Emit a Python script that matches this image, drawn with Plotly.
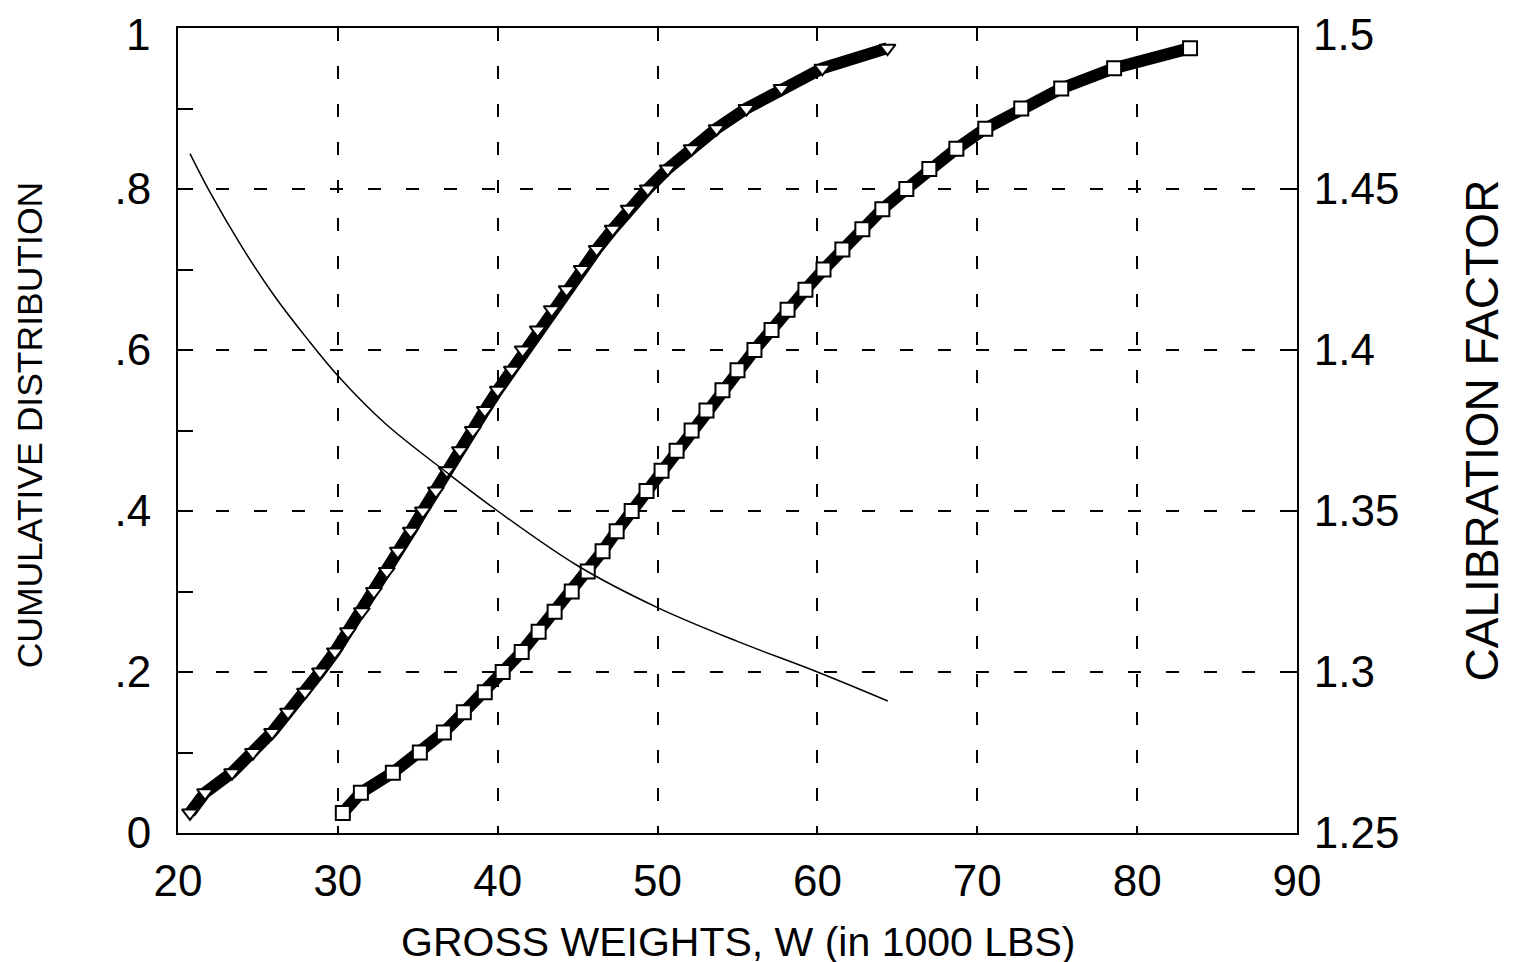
import plotly.graph_objects as go

# Cumulative distribution levels (shared by both marked curves)
cum_levels = [0.025, 0.05, 0.075, 0.1, 0.125, 0.15, 0.175, 0.2, 0.225, 0.25,
              0.275, 0.3, 0.325, 0.35, 0.375, 0.4, 0.425, 0.45, 0.475, 0.5,
              0.525, 0.55, 0.575, 0.6, 0.625, 0.65, 0.675, 0.7, 0.725, 0.75,
              0.775, 0.8, 0.825, 0.85, 0.875, 0.9, 0.925, 0.95, 0.975]

# Gross weights (1000 lbs) for the triangle-marked distribution
weights_tri = [20.75, 21.69, 23.38, 24.69, 25.88, 26.88, 27.94, 28.88, 29.81, 30.63,
               31.5, 32.25, 33.06, 33.75, 34.56, 35.31, 36.13, 36.81, 37.63, 38.44,
               39.19, 40.0, 40.88, 41.56, 42.5, 43.38, 44.31, 45.25, 46.19, 47.19,
               48.19, 49.38, 50.63, 52.13, 53.69, 55.56, 57.75, 60.31, 64.38]

# Gross weights (1000 lbs) for the square-marked distribution
weights_sq = [30.31, 31.44, 33.44, 35.13, 36.63, 37.88, 39.19, 40.31, 41.5, 42.56,
              43.56, 44.63, 45.63, 46.56, 47.44, 48.38, 49.31, 50.25, 51.19, 52.13,
              53.06, 54.06, 55.0, 56.06, 57.13, 58.13, 59.25, 60.38, 61.56, 62.81,
              64.06, 65.56, 67.0, 68.69, 70.5, 72.75, 75.25, 78.56, 83.31]

# Calibration factor curve (right axis)
cal_w = [20.75, 22, 24, 26, 28, 30, 33, 36.8, 40, 45, 50, 55, 60, 64.4]
cal_f = [1.461, 1.449, 1.432, 1.417, 1.404, 1.392, 1.377, 1.362, 1.350, 1.333,
         1.320, 1.3095, 1.300, 1.291]

x_ticks = [20, 30, 40, 50, 60, 70, 80, 90]
y_ticks = [0, 0.2, 0.4, 0.6, 0.8, 1]
y_ticktext = ["0", ".2", ".4", ".6", ".8", "1"]
y2_ticks = [1.25, 1.3, 1.35, 1.4, 1.45, 1.5]
y2_ticktext = ["1.25", "1.3", "1.35", "1.4", "1.45", "1.5"]

FONT = "Liberation Sans, Arial, Helvetica, sans-serif"

# The topmost labels sit at the very top edge; they are drawn as annotations
# nudged slightly downward so they are not clipped by the page edge.
y_axis_text = y_ticktext[:-1] + [""]
y2_axis_text = y2_ticktext[:-1] + [""]

fig = go.Figure()

fig.add_trace(go.Scatter(
    x=weights_tri, y=cum_levels, mode="lines+markers",
    line=dict(color="black", width=12),
    marker=dict(symbol="triangle-down", size=14, color="white",
                line=dict(color="black", width=2)),
    showlegend=False))

fig.add_trace(go.Scatter(
    x=weights_sq, y=cum_levels, mode="lines+markers",
    line=dict(color="black", width=12),
    marker=dict(symbol="square", size=14, color="white",
                line=dict(color="black", width=2)),
    showlegend=False))

fig.add_trace(go.Scatter(
    x=cal_w, y=cal_f, mode="lines", yaxis="y2",
    line=dict(color="black", width=1.5, shape="spline", smoothing=1.0),
    showlegend=False))

fig.update_layout(
    width=1513, height=962,
    margin=dict(l=170, r=224, t=20, b=137, autoexpand=False),
    paper_bgcolor="white", plot_bgcolor="white",
    font=dict(family=FONT, color="black", size=44),
    xaxis=dict(
        range=[20, 90], tickvals=x_ticks, ticks="", automargin=False,
        showgrid=True, gridcolor="black", gridwidth=1.5, griddash="13px,25px",
        showline=True, linecolor="black", linewidth=2, mirror=True,
        zeroline=False, tickfont=dict(size=44, family=FONT),
        ticklabelstandoff=8, ticklabeloverflow="allow"),
    yaxis=dict(
        range=[0, 1], tickvals=y_ticks, ticktext=y_axis_text, automargin=False,
        ticks="inside", ticklen=15, tickwidth=1.5, tickcolor="black",
        minor=dict(tickvals=[0.1, 0.3, 0.5, 0.7, 0.9], ticks="inside",
                   ticklen=15, tickwidth=1.5, tickcolor="black", showgrid=False),
        showgrid=True, gridcolor="black", gridwidth=1.5, griddash="13px,25px",
        showline=True, linecolor="black", linewidth=2,
        zeroline=False, tickfont=dict(size=44, family=FONT),
        ticklabelstandoff=16, ticklabeloverflow="allow"),
    yaxis2=dict(
        range=[1.25, 1.5], tickvals=y2_ticks, ticktext=y2_axis_text,
        overlaying="y", side="right", automargin=False,
        ticks="inside", ticklen=15, tickwidth=1.5, tickcolor="black",
        showgrid=False, showline=True, linecolor="black", linewidth=2,
        zeroline=False, tickfont=dict(size=44, family=FONT),
        ticklabelstandoff=6, ticklabeloverflow="allow"),
    annotations=[
        dict(text=y_ticktext[-1], x=0, y=y_ticks[-1], xref="paper", yref="y",
             xanchor="right", yanchor="middle", xshift=-26, yshift=-6,
             showarrow=False, font=dict(size=44, family=FONT)),
        dict(text=y2_ticktext[-1], x=1, y=y2_ticks[-1], xref="paper", yref="y2",
             xanchor="left", yanchor="middle", xshift=14, yshift=-6,
             showarrow=False, font=dict(size=44, family=FONT)),
        dict(text="GROSS WEIGHTS, W (in 1000 LBS)", x=0.5, y=-0.104,
             xref="paper", yref="paper", xanchor="center", yanchor="top",
             showarrow=False, font=dict(size=41, family=FONT)),
        dict(text="CUMULATIVE DISTRIBUTION", x=-0.1327, y=0.507,
             xref="paper", yref="paper", xanchor="center", yanchor="middle",
             textangle=-90, showarrow=False, font=dict(size=35.5, family=FONT)),
        dict(text="CALIBRATION FACTOR", x=1.1653, y=0.50,
             xref="paper", yref="paper", xanchor="center", yanchor="middle",
             textangle=-90, showarrow=False, font=dict(size=46, family=FONT)),
    ],
)

fig.write_html("out.html")
